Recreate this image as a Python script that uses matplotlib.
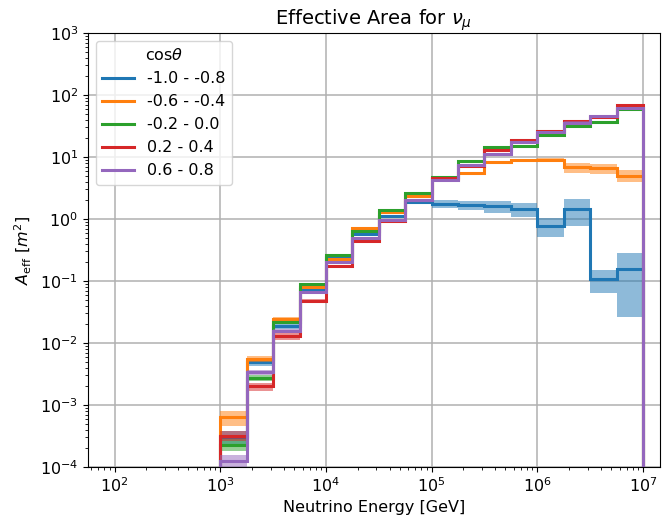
import numpy as np
import matplotlib
matplotlib.use("Agg")
import matplotlib.pyplot as plt

# energy bin edges (quarter decades, GeV)
edges = [1e3, 10**3.25, 10**3.5, 10**3.75, 1e4, 10**4.25, 10**4.5, 10**4.75,
         1e5, 10**5.25, 10**5.5, 10**5.75, 1e6, 10**6.25, 10**6.5, 10**6.75, 1e7]

labels = ["-1.0 - -0.8", "-0.6 - -0.4", "-0.2 - 0.0", "0.2 - 0.4", "0.6 - 0.8"]

# effective area per bin [m^2]
aeff_m10 = [3.0e-4, 4.9e-3, 1.86e-2, 7.5e-2, 0.245, 0.57, 1.1, 1.9,
            1.75, 1.68, 1.62, 1.45, 0.78, 1.45, 0.108, 0.156]
aeff_m06 = [6.3e-4, 5.5e-3, 2.44e-2, 8.0e-2, 0.226, 0.71, 1.3, 2.38,
            4.4, 5.5, 8.2, 8.9, 8.9, 6.8, 6.6, 5.0]
aeff_m02 = [2.3e-4, 2.7e-3, 2.16e-2, 8.9e-2, 0.26, 0.65, 1.4, 2.6,
            4.7, 8.7, 14.3, 15.2, 22.6, 32.0, 36.3, 59.0]
aeff_p02 = [3.2e-4, 2.0e-3, 1.28e-2, 4.8e-2, 0.172, 0.45, 0.92, 2.0,
            4.55, 7.2, 13.1, 19.0, 26.6, 37.6, 44.0, 69.0]
aeff_p06 = [1.26e-4, 3.4e-3, 1.59e-2, 6.6e-2, 0.2, 0.49, 0.95, 2.05,
            4.3, 7.4, 11.0, 17.2, 25.5, 36.0, 45.3, 61.7]

# statistical uncertainty per bin [m^2]
err_m10 = [8e-5, 6e-4, 1.5e-3, 5e-3, 0.015, 0.03, 0.05, 0.08,
           0.25, 0.3, 0.35, 0.38, 0.27, 0.68, 0.045, 0.13]
err_m06 = [1.7e-4, 6e-4, 2e-3, 5e-3, 0.012, 0.03, 0.05, 0.1,
           0.2, 0.3, 0.4, 0.5, 0.6, 1.3, 1.2, 1.1]
err_m02 = [5e-5, 3e-4, 1.2e-3, 4e-3, 0.01, 0.025, 0.05, 0.1,
           0.2, 0.35, 0.6, 0.7, 1.0, 1.5, 2.0, 3.0]
err_p02 = [6e-5, 3e-4, 1.5e-3, 4e-3, 0.01, 0.02, 0.04, 0.08,
           0.2, 0.3, 0.5, 0.7, 1.0, 1.5, 2.0, 3.0]
err_p06 = [2.8e-5, 3e-4, 1.2e-3, 3e-3, 0.01, 0.02, 0.04, 0.08,
           0.2, 0.3, 0.5, 0.7, 1.0, 1.5, 2.0, 3.0]

series = [aeff_m10, aeff_m06, aeff_m02, aeff_p02, aeff_p06]
errors = [err_m10, err_m06, err_m02, err_p02, err_p06]
colors = ["C0", "C1", "C2", "C3", "C4"]

plt.rcParams["font.size"] = 11.5

fig = plt.figure(figsize=(6.62, 5.23), dpi=100)
ax = fig.add_axes([88 / 662, 1 - 467 / 523, (660 - 88) / 662, (467 - 33) / 523])

for vals, err, col, lab in zip(series, errors, colors, labels):
    vals = np.array(vals)
    err = np.array(err)
    lo = np.clip(vals - err, 1e-12, None)
    ax.stairs(vals + err, edges, baseline=lo, fill=True, color=col, alpha=0.5, lw=0)
    ax.stairs(vals, edges, baseline=1e-12, color=col, lw=2.2, label=lab)

ax.set_xscale("log")
ax.set_yscale("log")
ax.set_xlim(56, 1.45e7)
ax.set_ylim(1e-4, 1e3)
ax.grid(True, which="major", lw=1.1)
ax.set_axisbelow(True)
ax.set_title(r"Effective Area for $\nu_\mu$", fontsize=14)
ax.set_xlabel("Neutrino Energy [GeV]", labelpad=3)
ax.set_ylabel(r"$A_\mathrm{eff}$ [$m^2$]")

handles = [plt.Line2D([], [], color=c, lw=2.2) for c in colors]
ax.legend(handles, labels, title=r"cos$\theta$", loc="upper left",
          fontsize=11.5, title_fontsize=11.5)

fig.savefig("out.png", dpi=100)
